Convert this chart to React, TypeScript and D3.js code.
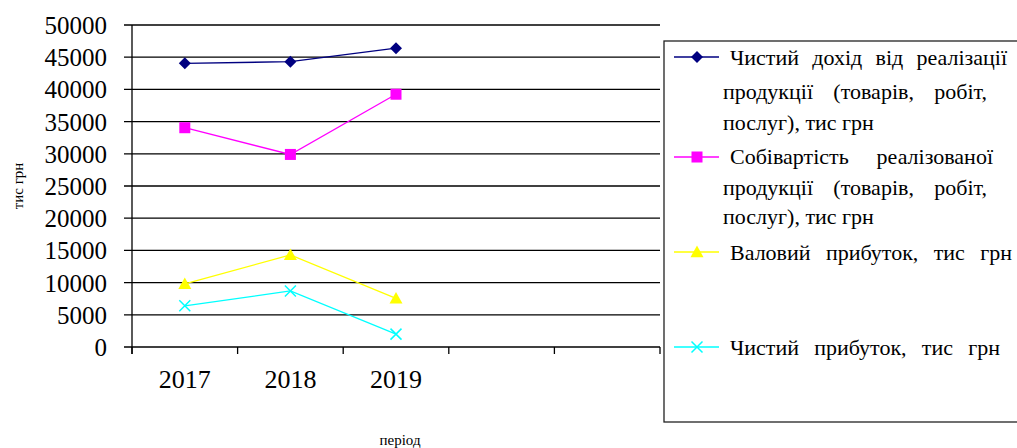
import React, { useLayoutEffect, useRef } from "react";
import * as d3 from "d3";

// Periods on the category axis (two trailing empty slots as in the sheet)
const years = ["2017", "2018", "2019"];
const slotCount = 5;

// Series values, тис грн
const netIncome = [44050, 44300, 46400];
const costOfSales = [34050, 29900, 39250];
const grossProfit = [9800, 14300, 7550];
const netProfit = [6400, 8700, 2000];

const yTicks = [0, 5000, 10000, 15000, 20000, 25000, 30000, 35000, 40000, 45000, 50000];

const seriesNames = [
  ["Чистий дохід від реалізації", "продукції (товарів, робіт,", "послуг), тис грн"],
  ["Собівартість реалізованої", "продукції (товарів, робіт,", "послуг), тис грн"],
  ["Валовий прибуток, тис грн"],
  ["Чистий прибуток, тис грн"],
];

const W = 1017;
const H = 448;
const plot = { left: 132, right: 660, top: 25, bottom: 347 };

type Marker = "diamond" | "square" | "triangle" | "cross";

const series: { values: number[]; color: string; marker: Marker }[] = [
  { values: netIncome, color: "#000080", marker: "diamond" },
  { values: costOfSales, color: "#FF00FF", marker: "square" },
  { values: grossProfit, color: "#FFFF00", marker: "triangle" },
  { values: netProfit, color: "#00FFFF", marker: "cross" },
];

const serifStyle: React.CSSProperties = { fontFamily: '"Liberation Serif"', whiteSpace: "pre" };

function MarkerShape({ type, x, y, color }: { type: Marker; x: number; y: number; color: string }) {
  if (type === "diamond") {
    const s = 6;
    return <path d={`M${x},${y - s}L${x + s},${y}L${x},${y + s}L${x - s},${y}Z`} fill={color} />;
  }
  if (type === "square") {
    const s = 5.5;
    return <rect x={x - s} y={y - s} width={2 * s} height={2 * s} fill={color} />;
  }
  if (type === "triangle") {
    const s = 6.5;
    return <path d={`M${x},${y - s}L${x + s},${y + s * 0.8}L${x - s},${y + s * 0.8}Z`} fill={color} />;
  }
  const s = 5.5;
  return (
    <path
      d={`M${x - s},${y - s}L${x + s},${y + s}M${x - s},${y + s}L${x + s},${y - s}`}
      stroke={color}
      strokeWidth={1.5}
      fill="none"
    />
  );
}

// Legend text rows: series index, text, x, baseline y, right edge for justified rows
const legendRows: { s: number; text: string; x: number; y: number; justifyTo: number | null }[] = [
  { s: 0, text: seriesNames[0][0], x: 730, y: 65, justifyTo: 1007 },
  { s: 0, text: seriesNames[0][1], x: 723, y: 99, justifyTo: 987 },
  { s: 0, text: seriesNames[0][2], x: 723, y: 130, justifyTo: null },
  { s: 1, text: seriesNames[1][0], x: 730, y: 164, justifyTo: 993 },
  { s: 1, text: seriesNames[1][1], x: 723, y: 195, justifyTo: 987 },
  { s: 1, text: seriesNames[1][2], x: 723, y: 224, justifyTo: null },
  { s: 2, text: seriesNames[2][0], x: 730, y: 260, justifyTo: 1012 },
  { s: 3, text: seriesNames[3][0], x: 730, y: 355, justifyTo: 1000 },
];
const legendSymbolY = [57, 157, 252, 347];

export default function App() {
  const svgRef = useRef<SVGSVGElement>(null);

  const x = d3
    .scaleBand<number>()
    .domain(d3.range(slotCount))
    .range([plot.left, plot.right])
    .padding(0);
  const y = d3.scaleLinear().domain([0, 50000]).range([plot.bottom, plot.top]);
  const cx = (i: number) => (x(i) ?? 0) + x.bandwidth() / 2;

  const line = d3
    .line<number>()
    .x((_, i) => cx(i))
    .y((d) => y(d));

  // Spread words of justified legend rows out to their right edge
  useLayoutEffect(() => {
    const svg = svgRef.current;
    if (!svg) return;
    d3.select(svg)
      .selectAll<SVGTextElement, unknown>("text.justify")
      .each(function () {
        const el = this;
        el.setAttribute("word-spacing", "0");
        const target = Number(el.getAttribute("data-right")) - Number(el.getAttribute("x"));
        const natural = el.getComputedTextLength();
        const gaps = (el.textContent || "").split(" ").length - 1;
        if (gaps > 0) el.setAttribute("word-spacing", String(Math.max(0, (target - natural) / gaps)));
      });
  }, []);

  return (
    <svg
      ref={svgRef}
      width={W}
      height={H}
      fontFamily="Liberation Serif"
      style={{ position: "absolute", left: 0, top: 0, background: "#fff" }}
    >
      {/* horizontal gridlines */}
      {yTicks.map((t) => (
        <line key={t} x1={plot.left - 8} x2={plot.right} y1={y(t)} y2={y(t)} stroke="#000" strokeWidth={1.3} />
      ))}
      {/* axes */}
      <line x1={plot.left} x2={plot.left} y1={plot.top} y2={plot.bottom + 7} stroke="#000" strokeWidth={1.3} />
      {d3.range(slotCount + 1).map((i) => {
        const xx = i < slotCount ? x(i)! : plot.right;
        return <line key={i} x1={xx} x2={xx} y1={plot.bottom} y2={plot.bottom + 7} stroke="#000" strokeWidth={1.3} />;
      })}
      {/* y tick labels */}
      {yTicks.map((t) => (
        <text key={t} x={107} y={y(t) + 9} textAnchor="end" fontSize={25} style={serifStyle} fill="#000">
          {t}
        </text>
      ))}
      {/* category labels */}
      {years.map((yr, i) => (
        <text key={yr} x={cx(i)} y={388} textAnchor="middle" fontSize={26} style={serifStyle} fill="#000">
          {yr}
        </text>
      ))}
      <text x={400} y={445} textAnchor="middle" fontSize={15} style={serifStyle} fill="#000">
        період
      </text>
      <text
        transform={`translate(23,${186}) rotate(-90)`}
        textAnchor="middle"
        fontSize={15}
        style={serifStyle}
        fill="#000"
      >
        тис грн
      </text>

      {/* series */}
      {series.map((s, si) => (
        <g key={si}>
          <path d={line(s.values) ?? ""} fill="none" stroke={s.color} strokeWidth={1.3} />
          {s.values.map((v, i) => (
            <MarkerShape key={i} type={s.marker} x={cx(i)} y={y(v)} color={s.color} />
          ))}
        </g>
      ))}

      {/* legend */}
      <rect x={664} y={41} width={400} height={381} fill="#fff" stroke="#222" strokeWidth={1.3} />
      {series.map((s, si) => (
        <g key={si}>
          <line x1={674} x2={719} y1={legendSymbolY[si]} y2={legendSymbolY[si]} stroke={s.color} strokeWidth={1.3} />
          <MarkerShape type={s.marker} x={697} y={legendSymbolY[si]} color={s.color} />
        </g>
      ))}
      {legendRows.map((r, i) => (
        <text
          key={i}
          className={r.justifyTo ? "justify" : undefined}
          data-right={r.justifyTo ?? undefined}
          x={r.x}
          y={r.y}
          fontSize={22}
          style={serifStyle}
          fill="#000"
        >
          {r.text}
        </text>
      ))}
    </svg>
  );
}
